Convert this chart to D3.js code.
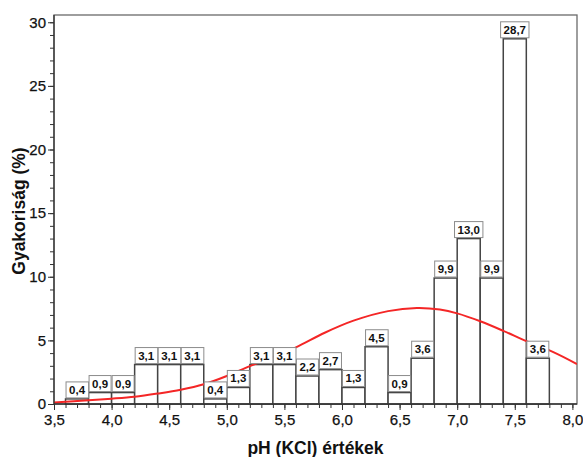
<!DOCTYPE html>
<html>
<head>
<meta charset="utf-8">
<script src="https://cdn.jsdelivr.net/npm/d3@7/dist/d3.min.js"></script>
<style>
  html, body { margin: 0; padding: 0; background: #fff; }
  svg { display: block; font-family: "Liberation Sans", Arial, sans-serif; }
</style>
</head>
<body>
<svg id="chart" width="583" height="457"></svg>
<script>
// pH classes (lower edge of each 0.2-wide bin) and their share in percent
const binStarts = [3.6, 3.8, 4.0, 4.2, 4.4, 4.6, 4.8, 5.0, 5.2, 5.4, 5.6,
                   5.8, 6.0, 6.2, 6.4, 6.6, 6.8, 7.0, 7.2, 7.4, 7.6];
const binWidth = 0.2;
const frequencies = [0.4, 0.9, 0.9, 3.1, 3.1, 3.1, 0.4, 1.3, 3.1, 3.1, 2.2,
                     2.7, 1.3, 4.5, 0.9, 3.6, 9.9, 13.0, 9.9, 28.7, 3.6];

// fitted normal curve, sampled points (pH, %)
const curvePH  = [3.5, 3.8, 4.0, 4.2, 4.4, 4.6, 4.8, 5.0, 5.2, 5.4, 5.6, 5.85,
                  6.1, 6.4, 6.65, 6.85, 7.0, 7.2, 7.4, 7.6, 7.83, 8.04];
const curveVal = [0.12, 0.3, 0.42, 0.57, 0.82, 1.12, 1.55, 2.2, 2.98, 3.7, 4.45, 5.6,
                  6.55, 7.3, 7.54, 7.42, 7.12, 6.5, 5.75, 4.94, 4.1, 3.14];

const xTicks = [3.5, 4.0, 4.5, 5.0, 5.5, 6.0, 6.5, 7.0, 7.5, 8.0];
const yTicks = [0, 5, 10, 15, 20, 25, 30];

const huLocale = d3.formatLocale({ decimal: ",", thousands: " ", grouping: [3], currency: ["", " Ft"] });
const fmt1 = huLocale.format(".1f");

const svg = d3.select("#chart");
const plot = { left: 54, right: 577, top: 15, bottom: 404 };

const x = d3.scaleLinear().domain([3.5, 8.04]).range([plot.left, plot.right]);
const y = d3.scaleLinear().domain([0, 30.57]).range([plot.bottom, plot.top]);

svg.append("defs").append("clipPath").attr("id", "plotClip")
  .append("rect")
  .attr("x", plot.left).attr("y", plot.top)
  .attr("width", plot.right - plot.left).attr("height", plot.bottom - plot.top);

// frame of the plot area
svg.append("rect")
  .attr("x", plot.left).attr("y", plot.top)
  .attr("width", plot.right - plot.left).attr("height", plot.bottom - plot.top)
  .attr("fill", "none").attr("stroke", "#6a6a6a").attr("stroke-width", 1.3);

// histogram bars
const bars = binStarts.map((s, i) => ({ s, v: frequencies[i] }));
svg.append("g")
  .selectAll("rect")
  .data(bars)
  .join("rect")
  .attr("x", d => x(d.s))
  .attr("y", d => y(d.v))
  .attr("width", d => x(d.s + binWidth) - x(d.s))
  .attr("height", d => y(0) - y(d.v))
  .attr("fill", "#fff")
  .attr("stroke", "#444")
  .attr("stroke-width", 1.5);

// normal curve
const line = d3.line()
  .x((d, i) => x(curvePH[i]))
  .y(d => y(d))
  .curve(d3.curveCatmullRom);
svg.append("path")
  .attr("clip-path", "url(#plotClip)")
  .attr("d", line(curveVal))
  .attr("fill", "none")
  .attr("stroke", "#f42626")
  .attr("stroke-width", 2);

// value labels in boxes
const lab = svg.append("g").selectAll("g").data(bars).join("g")
  .attr("transform", d => `translate(${(x(d.s) + x(d.s + binWidth)) / 2},${y(d.v) - 1})`);
lab.append("text")
  .attr("text-anchor", "middle")
  .attr("y", -4)
  .attr("font-size", 11.5)
  .attr("font-weight", "bold")
  .attr("fill", "#111")
  .text(d => fmt1(d.v));
lab.each(function () {
  const g = d3.select(this);
  const bb = g.select("text").node().getBBox();
  g.insert("rect", "text")
    .attr("x", bb.x - 3).attr("y", -16)
    .attr("width", bb.width + 6).attr("height", 16)
    .attr("fill", "#fff")
    .attr("stroke", "#8c8c8c")
    .attr("stroke-width", 1);
});

// axes
const xMinor = d3.range(35, 81).map(v => v / 10);
const yMinor = d3.range(0, 31);
const tickFont = g => g.selectAll("text")
  .attr("font-size", 15).attr("fill", "#111")
  .attr("stroke", "#111").attr("stroke-width", 0.25)
  .attr("font-family", "'Liberation Sans', Arial, sans-serif");

const xAxis = svg.append("g").attr("transform", `translate(0,${plot.bottom})`);
xAxis.append("g").call(d3.axisBottom(x).tickValues(xMinor).tickSize(4).tickFormat(""))
  .call(g => g.select(".domain").remove())
  .call(g => g.selectAll("line").attr("stroke", "#333"));
xAxis.append("g").call(d3.axisBottom(x).tickValues(xTicks).tickSize(6).tickPadding(4).tickFormat(fmt1))
  .call(g => g.select(".domain").remove())
  .call(g => g.selectAll("line").attr("stroke", "#333"))
  .call(tickFont);
xAxis.append("line").attr("x1", plot.left).attr("x2", plot.right)
  .attr("stroke", "#333").attr("stroke-width", 1.3);

const yAxis = svg.append("g").attr("transform", `translate(${plot.left},0)`);
yAxis.append("g").call(d3.axisLeft(y).tickValues(yMinor).tickSize(4).tickFormat(""))
  .call(g => g.select(".domain").remove())
  .call(g => g.selectAll("line").attr("stroke", "#333"));
yAxis.append("g").call(d3.axisLeft(y).tickValues(yTicks).tickSize(6).tickPadding(2).tickFormat(d3.format("d")))
  .call(g => g.select(".domain").remove())
  .call(g => g.selectAll("line").attr("stroke", "#333"))
  .call(tickFont);
yAxis.append("line").attr("y1", plot.top).attr("y2", plot.bottom)
  .attr("stroke", "#333").attr("stroke-width", 1.3);

// axis titles
svg.append("text")
  .attr("x", (plot.left + plot.right) / 2).attr("y", 454)
  .attr("text-anchor", "middle")
  .attr("font-size", 17.5).attr("font-weight", "bold").attr("fill", "#111")
  .text("pH (KCl) értékek");
svg.append("text")
  .attr("transform", `translate(25,211) rotate(-90)`)
  .attr("text-anchor", "middle")
  .attr("font-size", 17.5).attr("font-weight", "bold").attr("fill", "#111")
  .text("Gyakoriság (%)");
</script>
</body>
</html>
